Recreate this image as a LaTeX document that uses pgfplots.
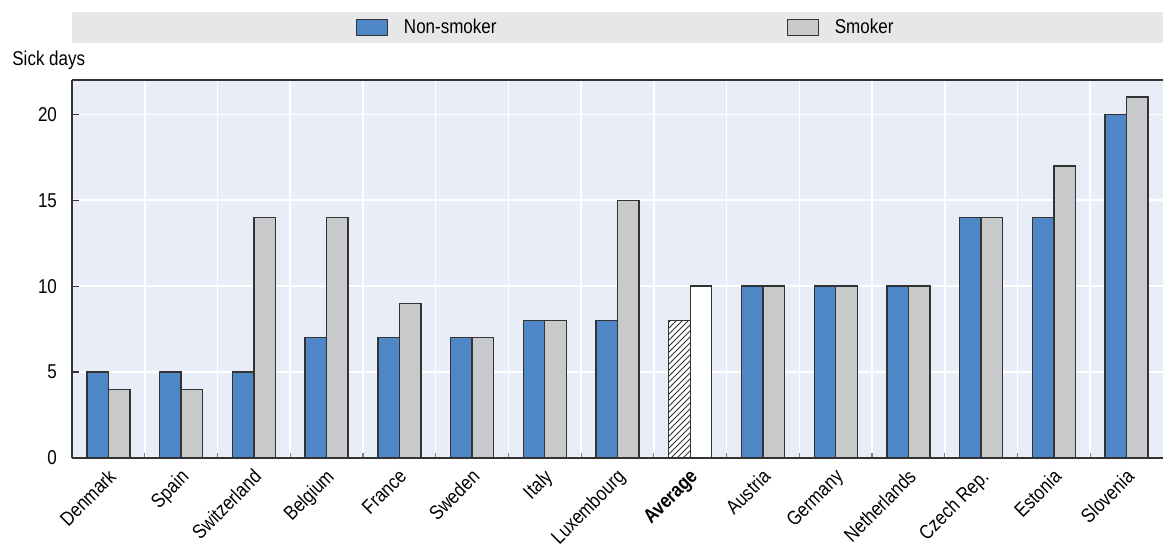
\documentclass[border=0pt]{standalone}
\usepackage{fontspec}
\setmainfont{Liberation Sans}[FakeStretch=0.85]
\usepackage{pgfplots}
\pgfplotsset{compat=1.18}
\usetikzlibrary{patterns}
\definecolor{nsblue}{HTML}{4E86C6}
\definecolor{smgray}{HTML}{C8C9CB}
\definecolor{plotbg}{HTML}{E9EDF7}
\definecolor{legbg}{HTML}{E6E7E9}
\definecolor{axdark}{HTML}{333333}
\begin{document}
\fontsize{10}{12}\selectfont
\begin{tikzpicture}
\fill[legbg] (0pt,207.5pt) rectangle (545.5pt,223pt);
\begin{axis}[
  at={(0,0)}, anchor=south west,
  scale only axis, width=545.5pt, height=189pt,
  xmin=-0.5, xmax=14.5, ymin=0, ymax=22,
  axis lines*=left,
  axis line style={-, draw=axdark, line width=1pt},
  axis background/.style={fill=plotbg},
  /pgf/number format/assume math mode=true,
  tick label style={font=\fontsize{10}{12}\selectfont},
  xtick={0,...,14},
  xticklabels={Denmark,Spain,Switzerland,Belgium,France,Sweden,Italy,Luxembourg,\textbf{Average},Austria,Germany,Netherlands,Czech Rep.,Estonia,Slovenia},
  x tick label style={rotate=45, anchor=north east, inner sep=0pt, yshift=-2.8pt, xshift=-3.9pt},
  major x tick style={draw=none},
  minor xtick={0.5,1.5,...,13.5},
  xminorgrids,
  minor x grid style={white, line width=0.8pt},
  minor tick length=2.5pt,
  minor x tick style={draw=gray, line width=0.6pt},
  tick align=inside,
  ytick={0,5,10,15,20},
  ymajorgrids,
  major y grid style={white, line width=0.8pt},
  major tick length=3.5pt,
  y tick style={draw=axdark, line width=0.6pt},
  y tick label style={xshift=-4pt},
  legend style={at={(0.5083,1.139)}, anchor=center, draw=none, fill=none,
    legend columns=2, /tikz/every even column/.append style={column sep=143pt},
    nodes={inner sep=2pt}},
  legend image code/.code={\draw[#1, draw=axdark, line width=0.6pt] (0pt,-4pt) rectangle (15.5pt,4pt); \path (21.5pt,0pt);},
  after end axis/.code={\draw[axdark, line width=1pt] (rel axis cs:0,1) -- (rel axis cs:1,1);},
]
\addplot[ybar, bar width=10.75pt, bar shift=-5.375pt, fill=nsblue, draw=axdark, line width=0.7pt]
  coordinates {(0,5) (1,5) (2,5) (3,7) (4,7) (5,7) (6,8) (7,8) (9,10) (10,10) (11,10) (12,14) (13,14) (14,20)};
\addlegendentry{Non-smoker}
\addplot[ybar, bar width=10.75pt, bar shift=5.375pt, fill=smgray, draw=axdark, line width=0.7pt]
  coordinates {(0,4) (1,4) (2,14) (3,14) (4,9) (5,7) (6,8) (7,15) (9,10) (10,10) (11,10) (12,14) (13,17) (14,21)};
\addlegendentry{Smoker}
\addplot[ybar, bar width=10.75pt, bar shift=-5.375pt, fill=white, postaction={pattern=north east lines, pattern color=axdark}, draw=axdark, line width=0.7pt, forget plot]
  coordinates {(8,8)};
\addplot[ybar, bar width=10.75pt, bar shift=5.375pt, fill=white, draw=axdark, line width=0.7pt, forget plot]
  coordinates {(8,10)};
\end{axis}
\node[anchor=west, inner sep=0pt] at (-30pt,199pt) {Sick days};
\pgfresetboundingbox
\path (-36pt,-44.5pt) rectangle (545.5pt,229pt);
\end{tikzpicture}
\end{document}
